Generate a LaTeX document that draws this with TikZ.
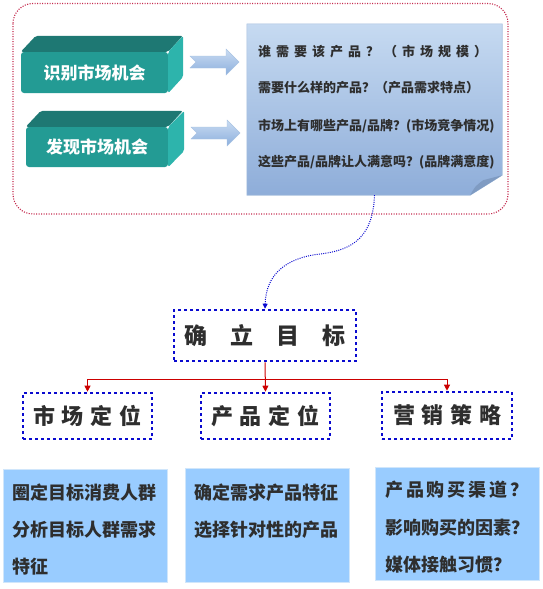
\documentclass[tikz,border=0pt]{standalone}
\usepackage{fontspec}
\setmainfont{Noto Sans CJK SC}
\usetikzlibrary{arrows.meta,calc}
\definecolor{tealfront}{HTML}{239B94}
\definecolor{tealtop}{HTML}{1E7873}
\definecolor{tealside}{HTML}{2DB4AC}
\definecolor{frameRed}{HTML}{C42A4E}
\definecolor{dotblue}{HTML}{0A0ACF}
\definecolor{lineRed}{HTML}{CC0000}
\definecolor{noteTop}{HTML}{C6DAF1}
\definecolor{noteBot}{HTML}{8EADD9}
\definecolor{noteBorder}{HTML}{A8C0DE}
\definecolor{flap}{HTML}{7F9BC2}
\definecolor{arrowTop}{HTML}{CADCF2}
\definecolor{arrowBot}{HTML}{8CAFDD}
\definecolor{arrowBorder}{HTML}{A9C3E3}
\definecolor{infoblue}{HTML}{99CCFF}
\definecolor{infoborder}{HTML}{D0E6FB}
\definecolor{txtgray}{HTML}{2E2E2E}
\tikzset{
  tealbox/.style={fill=tealfront, rounded corners=3pt, inner sep=0, text=white,
    font=\bfseries\fontsize{17}{18}\selectfont},
  notetext/.style={anchor=west, text=txtgray, font=\bfseries\fontsize{13}{15}\selectfont, inner sep=0},
  goalbox/.style={draw=dotblue, line width=2.6pt, dash pattern=on 2.6pt off 3.4pt, inner sep=0,
    text=txtgray},
  infobox/.style={fill=infoblue, draw=infoborder, line width=0.8pt, inner sep=0},
  infotext/.style={anchor=west, text=txtgray, font=\bfseries\fontsize{18}{20}\selectfont, inner sep=0},
  redline/.style={draw=lineRed, line width=1pt, -{Triangle[width=6pt,length=6pt]}},
  curveline/.style={draw=dotblue, line width=1pt, dash pattern=on 1pt off 1.2pt,
    -{Triangle[width=5pt,length=5pt]}},
  framedot/.style={draw=frameRed, line width=1.1pt, dash pattern=on 1.1pt off 1.4pt, rounded corners=20pt},
  blockarrow/.style={top color=arrowTop, bottom color=arrowBot, draw=arrowBorder, line width=0.4pt},
}
\begin{document}
\begin{tikzpicture}[x=1pt,y=-1pt]
\useasboundingbox (0,0) rectangle (542,589);

% outer dotted frame
\draw[framedot] (13,3.5) rectangle (508,214);

% teal 3D boxes
\node[tealbox, minimum width=147pt, minimum height=41pt] (front1) at (94.5,72.5) {识别市场机会};
\fill[tealtop, rounded corners=2pt] (front1.north west) -- ++(15,-16) -- ++(147,0) -- (front1.north east) -- cycle;
\fill[tealside, rounded corners=2pt] (front1.north east) -- ++(15,-16) -- ++(0,41) -- (front1.south east) -- cycle;

\node[tealbox, minimum width=142pt, minimum height=40pt] (front2) at (97,147) {发现市场机会};
\fill[tealtop, rounded corners=2pt] (front2.north west) -- ++(15,-16) -- ++(142,0) -- (front2.north east) -- cycle;
\fill[tealside, rounded corners=2pt] (front2.north east) -- ++(16,-16) -- ++(0,40) -- (front2.south east) -- cycle;

% block arrows
\shade[blockarrow] (190,56) -- (226,56) -- (226,49) -- (239,62) -- (226,75) -- (226,68) -- (190,68) -- (196,62) -- cycle;
\shade[blockarrow] (191,127) -- (227,127) -- (227,120) -- (240,133) -- (227,146) -- (227,139) -- (191,139) -- (197,133) -- cycle;

% note
\node[minimum width=255pt, minimum height=171pt, inner sep=0] (note) at (374.5,109.5) {};
\shade[top color=noteTop, bottom color=noteBot] (note.north west) -- (note.north east)
  -- ($(note.south east)+(0,-20)$) -- ($(note.south east)+(-32,0)$) -- (note.south west) -- cycle;
\draw[noteBorder, line width=0.6pt] (note.north west) -- (note.north east)
  -- ($(note.south east)+(0,-20)$) -- ($(note.south east)+(-32,0)$) -- (note.south west) -- cycle;
\fill[flap] ($(note.south east)+(-32,0)$) .. controls ($(note.south east)+(-27,-9)$) .. ($(note.south east)+(-19,-15)$)
  -- ($(note.south east)+(0,-20)$) -- cycle;

\node[notetext] (q1) at (258,52) {\makebox[229pt][s]{谁 需 要 该 产 品 ？ （ 市 场 规 模 ）}};
\node[notetext] (q2) at (258,88) {需要什么样的产品？（产品需求特点）};
\node[notetext] (q3) at (258,126) {市场上有哪些产品/品牌？(市场竞争情况)};
\node[notetext] (q4) at (258,162) {这些产品/品牌让人满意吗？(品牌满意度)};

% goal
\node[goalbox, minimum width=182pt, minimum height=51pt, font=\bfseries\fontsize{23}{25}\selectfont]
  (goal) at (265,335.5) {\makebox[161pt][s]{确 立 目 标}};

\draw[curveline] (note.south) .. controls (373,235) and (355,250) .. (320,254)
  .. controls (285,258) and (266,275) .. (goal.north);

% level boxes
\node[goalbox, minimum width=129pt, minimum height=46pt, font=\bfseries\fontsize{22}{24}\selectfont]
  (mkt) at (87.5,416) {\makebox[109pt][s]{市 场 定 位}};
\node[goalbox, minimum width=129pt, minimum height=46pt, font=\bfseries\fontsize{22}{24}\selectfont]
  (prod) at (265.5,416) {\makebox[109pt][s]{产 品 定 位}};
\node[goalbox, minimum width=130pt, minimum height=47pt, font=\bfseries\fontsize{22}{24}\selectfont]
  (strat) at (447,415.5) {\makebox[108pt][s]{营 销 策 略}};

\coordinate (split) at ($(goal.south)+(0,17)$);
\draw[redline] (goal.south) -- (prod.north);
\draw[redline] (split) -| (mkt.north);
\draw[redline] (split) -| (strat.north);

% info boxes
\node[infobox, minimum width=164pt, minimum height=113pt, anchor=north west] (boxA) at (3,469) {};
\node[infotext] (a1) at ($(boxA.north west)+(9,24)$) {圈定目标消费人群};
\node[infotext] (a2) at ($(boxA.north west)+(9,61)$) {分析目标人群需求};
\node[infotext] (a3) at ($(boxA.north west)+(9,98)$) {特征};

\node[infobox, minimum width=164pt, minimum height=114pt, anchor=north west] (boxB) at (185,468) {};
\node[infotext] (b1) at ($(boxB.north west)+(9,25)$) {确定需求产品特征};
\node[infotext] (b2) at ($(boxB.north west)+(9,62)$) {选择针对性的产品};

\node[infobox, minimum width=164pt, minimum height=113pt, anchor=north west] (boxC) at (375,467) {};
\node[infotext] (c1) at ($(boxC.north west)+(10,23)$) {\makebox[143pt][s]{产 品 购 买 渠 道 ？}};
\node[infotext] (c2) at ($(boxC.north west)+(10,61)$) {影响购买的因素？};
\node[infotext] (c3) at ($(boxC.north west)+(10,98)$) {媒体接触习惯？};
\end{tikzpicture}
\end{document}
